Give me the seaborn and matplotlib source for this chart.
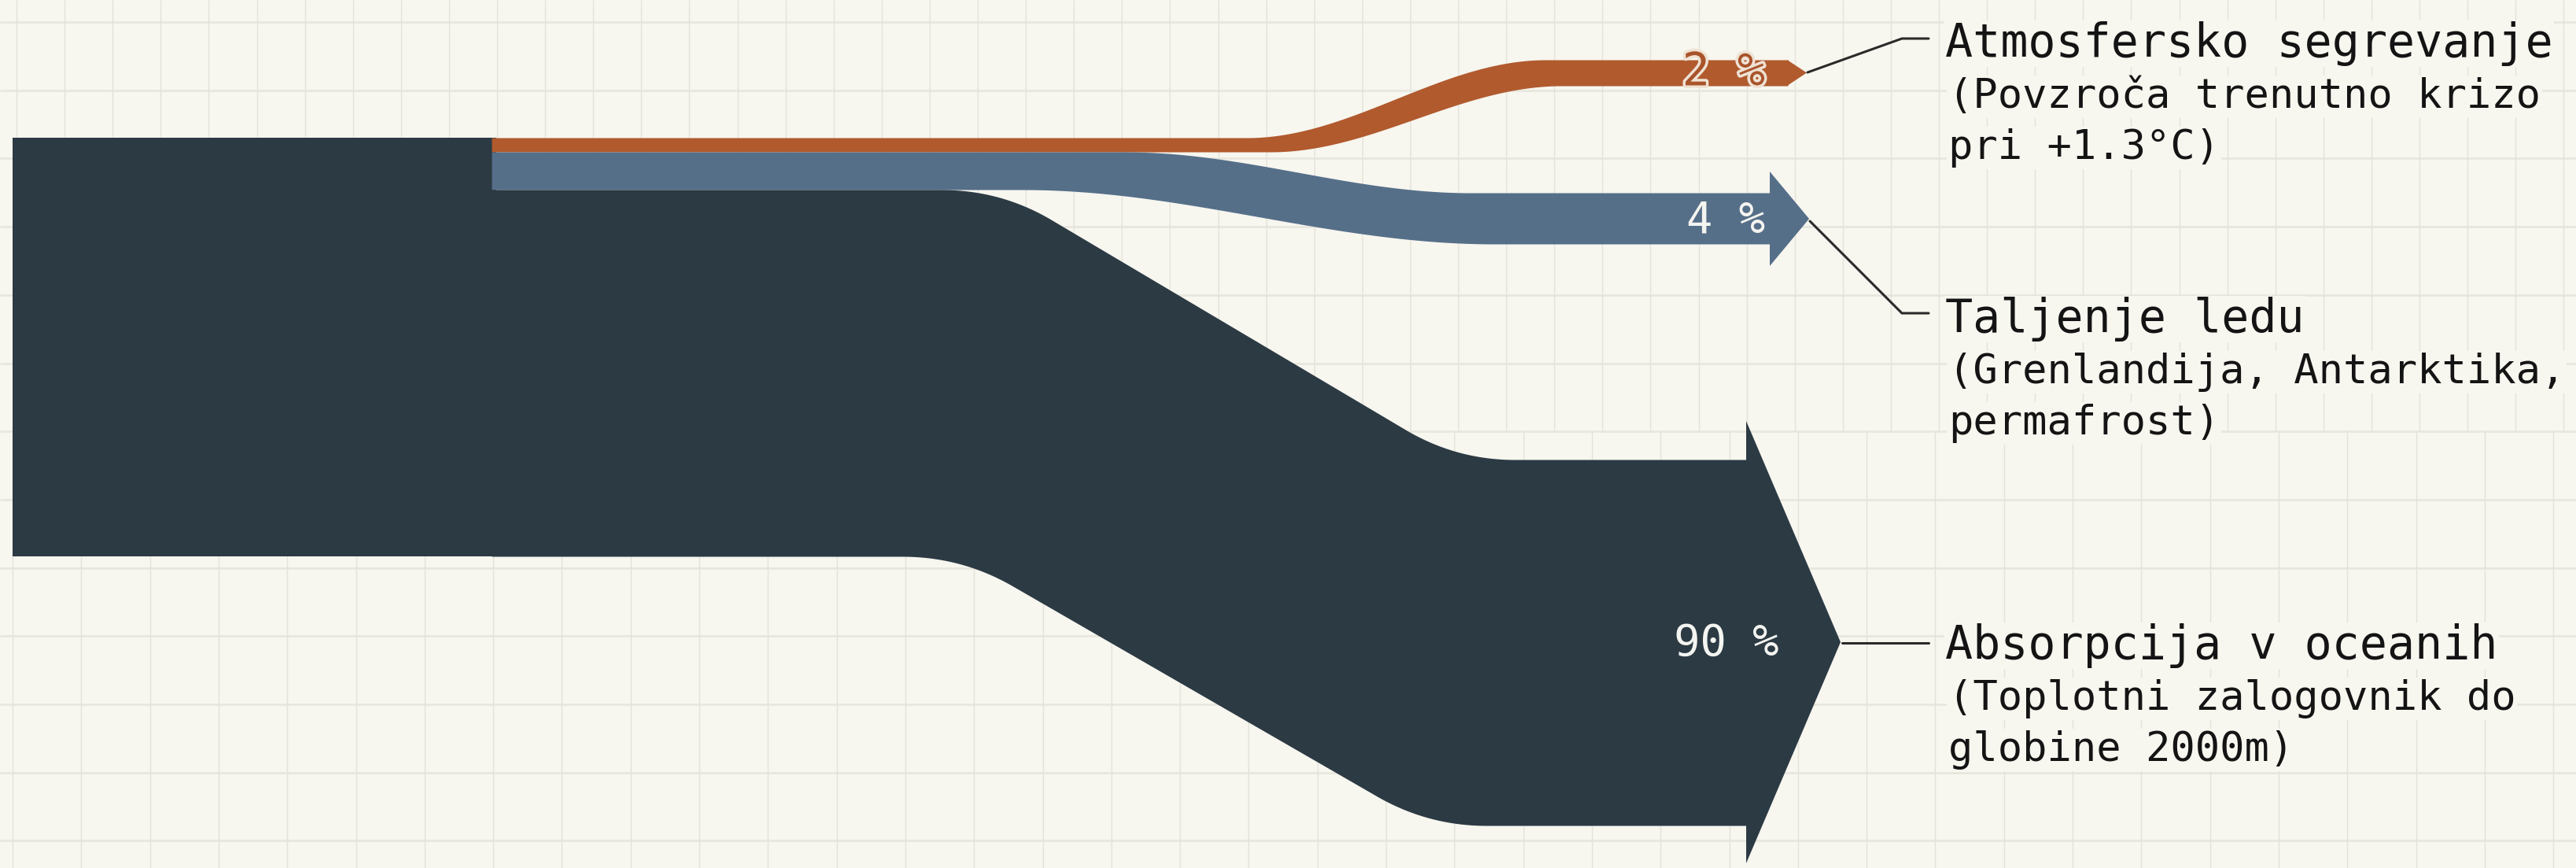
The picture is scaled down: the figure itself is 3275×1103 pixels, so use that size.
import numpy as np
import matplotlib
matplotlib.use("Agg")
import matplotlib.pyplot as plt
import matplotlib.patheffects as pe
import seaborn as sns

# --- data ---
flow_labels = ["Atmosfersko segrevanje", "Taljenje ledu", "Absorpcija v oceanih"]
flow_notes = [
    ["(Povzroča trenutno krizo", "pri +1.3°C)"],
    ["(Grenlandija, Antarktika,", "permafrost)"],
    ["(Toplotni zalogovnik do", "globine 2000m)"],
]
flow_shares = [2, 4, 90]
flow_colors = ["#b15a2e", "#566f89", "#2c3a44"]

BG = "#f7f6ef"
INK = "#141414"

# --- layout (pixel space, y grows downward) ---
W, H = 3275, 1103
SRC_X0, SPLIT_X = 16, 625
SRC_TOP, SRC_BOT = 175, 707
# per flow: start top/bot, end top/bot, top / bottom transition x-range, edge style
bands = [
    dict(t0=175, b0=193, t1=76, b1=109, tx=(1585, 1965), bx=(1615, 1985), style="s", h=0.35,
         x_end=2272, head=(2272, 76, 109, 2297)),
    dict(t0=193, b0=241, t1=245, b1=310, tx=(1430, 1870), bx=(1300, 1900), style="s", h=0.35,
         x_end=2250, head=(2250, 218, 338, 2300)),
    dict(t0=241, b0=707, t1=584, b1=1049, tx=(1272, 1851), bx=(1222, 1815), style="fillet", h=75,
         x_end=2220, head=(2220, 535, 1097, 2340)),
]
pct_pos = [(2244, 92), (2244, 280), (2262, 818)]
label_x = 2473
label_base = [72, 422, 837]
leaders = [
    [(2298, 92), (2418, 49), (2452, 49)],
    [(2301, 281), (2418, 398), (2452, 398)],
    [(2342, 817), (2452, 817)],
]


def s_edge(xs, xa, xb, ya, yb, h):
    # smooth S-shaped cubic bezier between two flat levels
    t = np.linspace(0, 1, 600)
    w = xb - xa
    px = [xa, xa + h * w, xb - h * w, xb]
    py = [ya, ya, yb, yb]
    bx = (1 - t) ** 3 * px[0] + 3 * (1 - t) ** 2 * t * px[1] + 3 * (1 - t) * t ** 2 * px[2] + t ** 3 * px[3]
    by = (1 - t) ** 3 * py[0] + 3 * (1 - t) ** 2 * t * py[1] + 3 * (1 - t) * t ** 2 * py[2] + t ** 3 * py[3]
    return np.interp(xs, bx, by)


def fillet_edge(xs, xa, xb, ya, yb, d):
    # straight diagonal with rounded (quadratic) corners
    a = np.array([xa, ya], float)
    b = np.array([xb, yb], float)
    u = (b - a) / np.hypot(*(b - a))
    t = np.linspace(0, 1, 200)[:, None]
    p0, p2 = a - [d, 0], a + d * u
    c1 = (1 - t) ** 2 * p0 + 2 * (1 - t) * t * a + t ** 2 * p2
    q0, q2 = b - d * u, b + [d, 0]
    c2 = (1 - t) ** 2 * q0 + 2 * (1 - t) * t * b + t ** 2 * q2
    pts = np.vstack([c1, c2])
    return np.interp(xs, pts[:, 0], pts[:, 1])


sns.set_theme(style="white", rc={"figure.facecolor": BG, "axes.facecolor": BG})
plt.rcParams["font.family"] = ["DejaVu Sans Mono", "DejaVu Sans"]

fig = plt.figure(figsize=(W / 100, H / 100), dpi=100)
ax = fig.add_axes([0, 0, 1, 1])
ax.set_xlim(0, W)
ax.set_ylim(H, 0)
ax.axis("off")

# background grid (finer columns in the upper part, wider below)
hy = 28 + 86.7 * np.arange(13)
ax.hlines(hy, 0, W, color="#e7e6dd", lw=1.8, zorder=0)
ax.vlines(21 + 61.1 * np.arange(54), 0, 548, color="#e4e3da", lw=1.0, zorder=0)
ax.vlines(16 + 87.3 * np.arange(38), 548, H, color="#e4e3da", lw=1.0, zorder=0)

# source block
ax.fill_between([SRC_X0, SPLIT_X + 6], SRC_TOP, SRC_BOT, color=flow_colors[2], lw=0, zorder=2)

# flows
for b, col in zip(bands, flow_colors):
    xs = np.linspace(SPLIT_X, b["x_end"] + 1, 2000)
    edge = s_edge if b["style"] == "s" else fillet_edge
    top = edge(xs, b["tx"][0], b["tx"][1], b["t0"], b["t1"], b["h"])
    bot = edge(xs, b["bx"][0], b["bx"][1], b["b0"], b["b1"], b["h"])
    ax.fill_between(xs, top, bot, color=col, lw=0, zorder=2)
    hx, ht, hb, tip = b["head"]
    ax.fill([hx, tip, hx], [ht, (ht + hb) / 2, hb], color=col, lw=0, zorder=2)

# percentage labels
for i, (share, (px, py)) in enumerate(zip(flow_shares, pct_pos)):
    if i == 0:
        ax.text(px, py, f"{share} %", ha="right", va="center", fontsize=42,
                color="#a9532a", zorder=4,
                path_effects=[pe.withStroke(linewidth=5, foreground="#efe2d4")])
    else:
        ax.text(px, py, f"{share} %", ha="right", va="center", fontsize=40,
                color="#f4f4f0", zorder=4)

# leader lines
for pts in leaders:
    xs, ys = zip(*pts)
    sns.lineplot(x=list(xs), y=list(ys), ax=ax, color="#2a2a2a", lw=2.2,
                 sort=False, estimator=None, zorder=3)

# category labels
box = dict(facecolor=BG, edgecolor="none", pad=1)
for lab, notes, yb in zip(flow_labels, flow_notes, label_base):
    ax.text(label_x, yb, lab, ha="left", va="baseline", fontsize=42,
            color=INK, bbox=box, zorder=4)
    for k, line in enumerate(notes):
        ax.text(label_x + 4, yb + 65 * (k + 1), line, ha="left", va="baseline",
                fontsize=37.5, color=INK, bbox=box, zorder=4)

fig.savefig("out.png", dpi=100, facecolor=BG)
